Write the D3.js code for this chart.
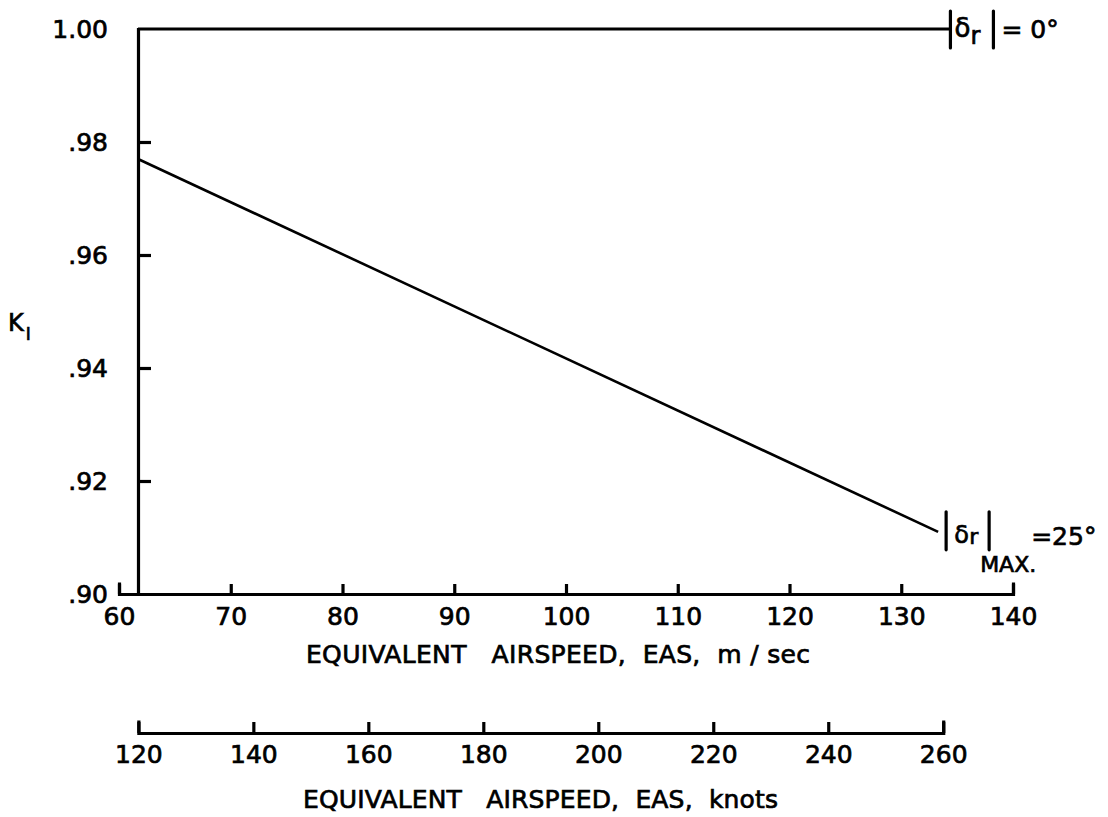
<!DOCTYPE html>
<html>
<head>
<meta charset="utf-8">
<script src="https://cdn.jsdelivr.net/npm/d3@7"></script>
<style>
  html, body { margin: 0; padding: 0; background: #fff; }
  svg { display: block; }
  text { font-family: "DejaVu Sans", sans-serif; fill: #000; stroke: #000; stroke-width: 0.7px; white-space: pre; }
</style>
</head>
<body>
<script>
// Tick values for the three axes
const speedTicksMps = [60, 70, 80, 90, 100, 110, 120, 130, 140];
const speedTicksKnots = [120, 140, 160, 180, 200, 220, 240, 260];
const kTicks = [0.90, 0.92, 0.94, 0.96, 0.98, 1.00];

// K1 versus airspeed (m/sec) for zero rudder and maximum rudder deflection
const speedZeroRudder = [61.7, 134.4];
const kZeroRudder = [1.00, 1.00];
const speedMaxRudder = [61.7, 133.3];
const kMaxRudder = [0.977, 0.911];

const KNOT_TO_MPS = 0.514444;

const W = 1108, H = 817;
const svg = d3.select("body").append("svg").attr("width", W).attr("height", H);

const x = d3.scaleLinear().domain([60, 140]).range([119, 1013]);
const y = d3.scaleLinear().domain([0.90, 1.00]).range([594, 29]);
const xKnots = d3.scaleLinear()
  .domain([120, 260])
  .range([x(120 * KNOT_TO_MPS), x(260 * KNOT_TO_MPS)]);

const FS = 25;
const axisW = 3.2;

function styleAxis(g) {
  g.attr("font-family", null).attr("font-size", null);
  g.selectAll("path.domain").attr("stroke", "#000").attr("stroke-width", axisW).attr("stroke-linecap", "square");
  g.selectAll(".tick line").attr("stroke", "#000").attr("stroke-width", axisW);
  g.selectAll(".tick text").style("font-size", FS + "px").attr("fill", "#000");
}

// Bottom axis, m/sec
const gx = svg.append("g")
  .attr("transform", `translate(0,${y(0.90)})`)
  .call(d3.axisBottom(x).tickValues(speedTicksMps).tickSizeInner(-10).tickSizeOuter(-10).tickPadding(13).tickFormat(d3.format("d")));
styleAxis(gx);

// Left axis, K1 (drawn at the 120-knot speed)
const yAxisX = x(speedZeroRudder[0]);
const fmtK = v => v === 1 ? "1.00" : d3.format(".2f")(v).replace(/^0/, "");
const gy = svg.append("g")
  .attr("transform", `translate(${yAxisX},0)`)
  .call(d3.axisLeft(y).tickValues(kTicks.filter(v => v > 0.9 && v < 1)).tickSizeInner(-13).tickSizeOuter(0).tickPadding(30).tickFormat(fmtK));
styleAxis(gy);

// labels for .90 and 1.00 sit at the axis ends
[0.90, 1.00].forEach(v => {
  svg.append("text")
    .attr("x", yAxisX - 30).attr("y", y(v))
    .attr("dy", "0.35em")
    .attr("text-anchor", "end")
    .style("font-size", FS + "px")
    .text(fmtK(v));
});

// Knots axis
const gk = svg.append("g")
  .attr("transform", "translate(0,733)")
  .call(d3.axisBottom(xKnots).tickValues(speedTicksKnots).tickSizeInner(-11).tickSizeOuter(-11).tickPadding(12).tickFormat(d3.format("d")));
styleAxis(gk);

// Axis titles
svg.append("text")
  .attr("x", 306).attr("y", 663)
  .attr("textLength", 504).attr("lengthAdjust", "spacing")
  .style("font-size", FS + "px")
  .text("EQUIVALENT   AIRSPEED,  EAS,  m / sec");

svg.append("text")
  .attr("x", 303).attr("y", 808)
  .attr("textLength", 475).attr("lengthAdjust", "spacing")
  .style("font-size", FS + "px")
  .text("EQUIVALENT   AIRSPEED,  EAS,  knots");

const kLabel = svg.append("text").attr("x", 8).attr("y", 331).style("font-size", "24px");
kLabel.append("tspan").text("K");
kLabel.append("tspan").attr("dx", 2).attr("dy", 9).style("font-size", "17px").text("I");

// Curves
const line = d3.line().x(d => x(d[0])).y(d => y(d[1]));
const zeroPts = d3.zip(speedZeroRudder, kZeroRudder);
const maxPts = d3.zip(speedMaxRudder, kMaxRudder);

svg.append("path").datum(zeroPts)
  .attr("d", line).attr("fill", "none").attr("stroke", "#000").attr("stroke-width", 3);
svg.append("path").datum(maxPts)
  .attr("d", line).attr("fill", "none").attr("stroke", "#000").attr("stroke-width", 2.6);

// |δr| annotation helper
function bar(xp, y1, y2) {
  svg.append("line").attr("x1", xp).attr("x2", xp).attr("y1", y1).attr("y2", y2)
    .attr("stroke", "#000").attr("stroke-width", 3.2).attr("stroke-linecap", "round");
}

// Zero deflection label
{
  const x0 = x(speedZeroRudder[1]), y0 = y(kZeroRudder[1]);
  bar(x0, y0 - 18, y0 + 19);
  svg.append("text").attr("x", x0 + 4).attr("y", y0 + 8).style("font-size", "26px").text("δ");
  svg.append("text").attr("x", x0 + 20).attr("y", y0 + 15).style("font-size", "24px").text("r");
  bar(x0 + 43, y0 - 18, y0 + 19);
  svg.append("text").attr("x", x0 + 51).attr("y", y0 + 9).style("font-size", FS + "px").text("= 0°");
}

// Maximum deflection label
{
  const x0 = x(speedMaxRudder[1]), y0 = y(kMaxRudder[1]);
  bar(x0 + 8, y0 - 20, y0 + 18);
  svg.append("text").attr("x", x0 + 16).attr("y", y0 + 11).style("font-size", "24px").text("δ");
  svg.append("text").attr("x", x0 + 31).attr("y", y0 + 12).style("font-size", "22px").text("r");
  bar(x0 + 51, y0 - 20, y0 + 18);
  svg.append("text").attr("x", x0 + 93).attr("y", y0 + 13).style("font-size", FS + "px").text("=25°");
  svg.append("text").attr("x", x0 + 42).attr("y", y0 + 40).style("font-size", "22px").text("MAX.");
}
</script>
</body>
</html>
